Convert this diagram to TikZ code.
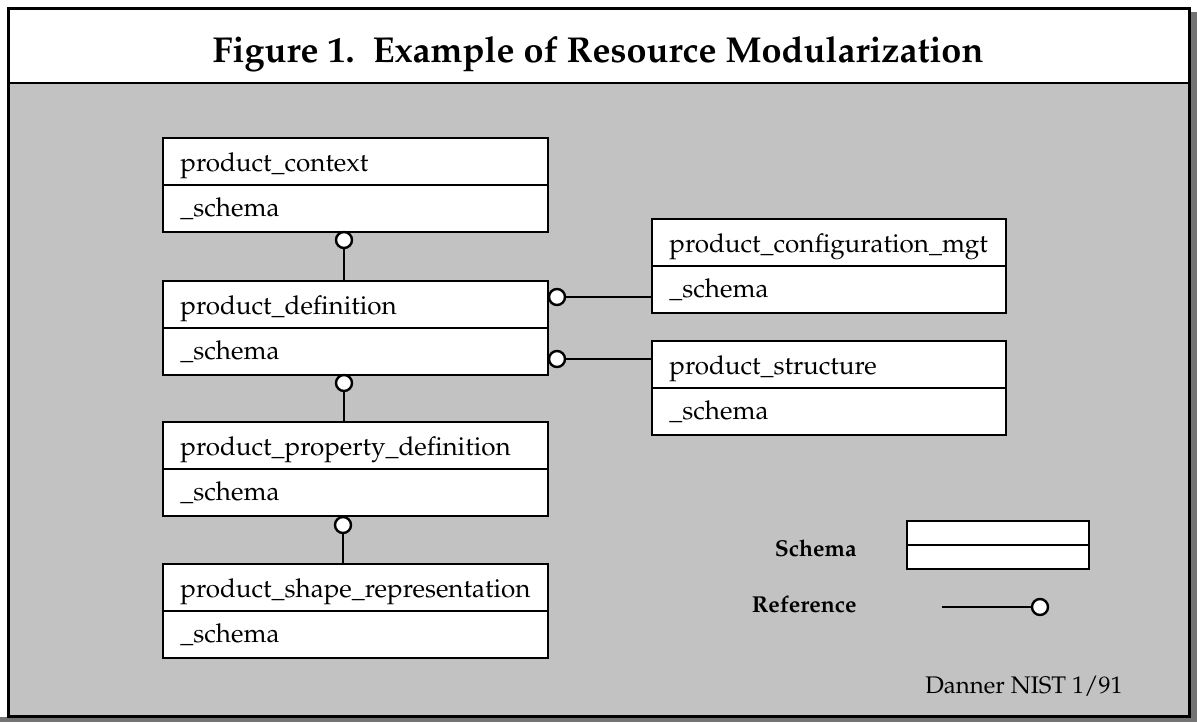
\documentclass[tikz,border=0pt]{standalone}
\usepackage[T1]{fontenc}
\usepackage{mathpazo}
\begin{document}
\begin{tikzpicture}[x=0.5pt,y=-0.5pt,
  sbox/.style={rectangle, draw, fill=white, line width=1.2pt, minimum height=47pt,
    anchor=north west, outer sep=0pt, inner sep=0pt},
  btext/.style={font=\fontsize{13}{15}\selectfont, anchor=base west, inner sep=0pt},
  divline/.style={line width=1.2pt},
  refdot/.style={circle, draw, fill=white, line width=1.2pt, minimum size=8pt, inner sep=0pt},
  conn/.style={line width=1.1pt},
  leglab/.style={font=\bfseries\fontsize{11.5}{14}\selectfont, anchor=east, inner sep=0pt}
]
\useasboundingbox (0,0) rectangle (1197,722);
% shadow
\fill[black!55] (1190,12) rectangle (1197,722);
\fill[black!55] (0,717) rectangle (1197,722);
% background
\fill[black!24] (8,83) rectangle (1189,716);
\fill[white] (8,9) rectangle (1189,83);
\draw[line width=1.5pt] (8,9) rectangle (1189,716);
\draw[line width=1.2pt] (8,83) -- (1189,83);
% title
\node[font=\bfseries\fontsize{18}{21}\selectfont, anchor=base, inner sep=0pt] (title) at (598,63)
  {Figure 1.\ \ Example of Resource Modularization};
% schema boxes
\foreach \nm/\px/\py/\w/\txt in {
   ctx/163/138/192.5/product\_context,
   def/163/281/192.5/product\_definition,
   prop/163/422/192.5/product\_property\_definition,
   shape/163/564/192.5/product\_shape\_representation,
   cfg/652/219/177/product\_configuration\_mgt,
   str/652/341/177/product\_structure}{
  \node[sbox, minimum width=\w pt] (\nm) at (\px,\py) {};
  \draw[divline] (\nm.west) -- (\nm.east);
  \node[btext] (\nm-a) at ([xshift=8.5pt,yshift=-16.5pt]\nm.north west) {\txt};
  \node[btext] (\nm-b) at ([xshift=8.5pt,yshift=-15.5pt]\nm.west) {\_schema};
}
% references
\node[refdot] (c1) at (344,240) {};
\draw[conn] (c1.south) -- (c1.south |- def.north);
\node[refdot] (c2) at (344,383) {};
\draw[conn] (c2.south) -- (c2.south |- prop.north);
\node[refdot] (c3) at (343,525) {};
\draw[conn] (c3.south) -- (c3.south |- shape.north);
\node[refdot] (c4) at (557,297) {};
\draw[conn] (c4.east) -- (c4.east -| cfg.west);
\node[refdot] (c5) at (557,359) {};
\draw[conn] (c5.east) -- (c5.east -| str.west);
% legend
\node[sbox, minimum width=91pt, minimum height=24pt] (leg) at (907,521) {};
\draw[divline] (leg.west) -- (leg.east);
\node[leglab] (lsch) at (857,548) {Schema};
\node[leglab] (lref) at (857,604) {Reference};
\coordinate (ls) at (942,607);
\node[refdot] (lc) at (1040,607) {};
\draw[conn] (ls) -- (lc.west);
% credit
\node[font=\fontsize{12}{14}\selectfont, anchor=base, inner sep=0pt] (credit) at (1024,693) {Danner NIST 1/91};
\end{tikzpicture}
\end{document}
